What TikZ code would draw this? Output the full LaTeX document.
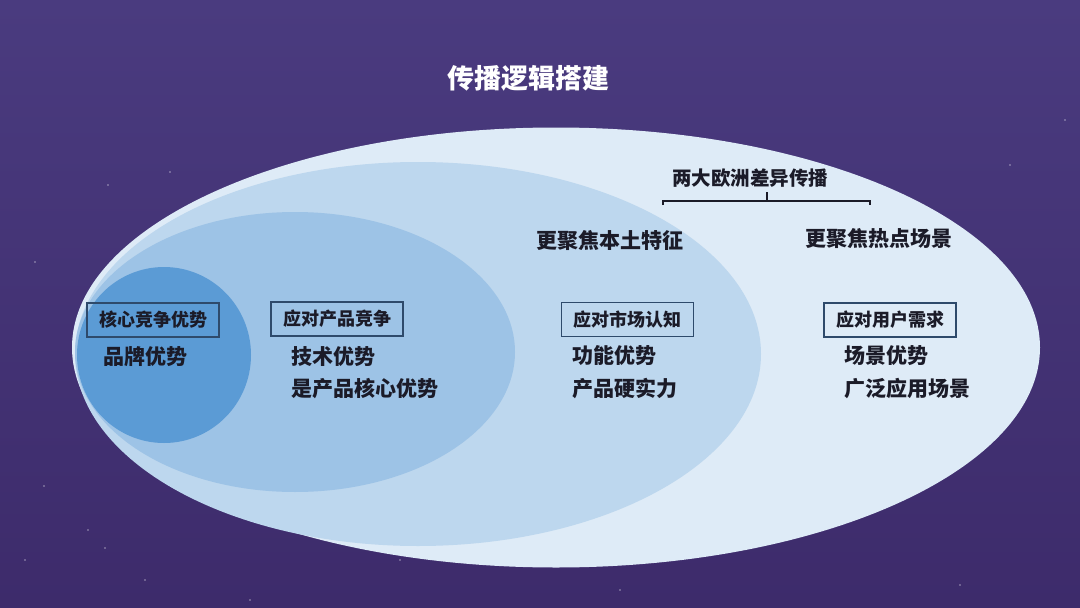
\documentclass[tikz,border=0pt]{standalone}
\usepackage{fontspec}
\newfontfamily\cjk{Noto Sans CJK SC}
\definecolor{bgtop}{HTML}{4A3B7F}
\definecolor{bgbot}{HTML}{3D2B6B}
\definecolor{eA}{HTML}{DEEBF7}
\definecolor{eB}{HTML}{BDD7EE}
\definecolor{eC}{HTML}{9DC3E6}
\definecolor{eD}{HTML}{5B9BD5}
\definecolor{ink}{HTML}{1B1B28}
\definecolor{boxline}{HTML}{2E4A6B}
\tikzset{
  lbl/.style={font=\cjk\bfseries\fontsize{21}{23}\selectfont, text=ink, inner sep=0pt, anchor=west},
  tag/.style={draw=boxline, line width=1.1pt, font=\cjk\bfseries\fontsize{18}{20}\selectfont, text=ink, minimum width=132pt, minimum height=34pt, inner sep=0pt},
  ttl/.style={font=\cjk\bfseries\fontsize{27}{29}\selectfont, text=white, inner sep=0pt},
  brk/.style={draw=ink, line width=1.1pt},
  star/.style={fill=white, opacity=0.35}
}
\begin{document}
\begin{tikzpicture}[x=1pt,y=-1pt]
\useasboundingbox (0,0) rectangle (1080,608);
\shade[top color=bgtop, bottom color=bgbot] (0,0) rectangle (1080,608);
% faint stars
\foreach \sx/\sy in {35/262,108/185,170/172,44/486,88/530,105/548,25/560,145/580,300/525,1010/165,1065/120,960/585,620/590,250/600,400/560}
  \fill[star] (\sx,\sy) circle (1.1);
% ellipses
\fill[eA] (556,347.5) ellipse [x radius=484, y radius=220];
\fill[eB] (418,354) ellipse [x radius=343, y radius=192];
\fill[eC] (295,352) ellipse [x radius=220, y radius=140];
\fill[eD] (164,355) ellipse [x radius=87, y radius=88];
% title
\node[ttl] (title) at (528,78) {传播逻辑搭建};
% top labels
\node[font=\cjk\bfseries\fontsize{19.5}{21}\selectfont, text=ink, inner sep=0pt] (eu) at (750,178) {两大欧洲差异传播};
\coordinate (bl) at (663,205);
\coordinate (blt) at (663,201);
\coordinate (brt) at (870,201);
\coordinate (br) at (870,205);
\coordinate (bm) at (767,201);
\coordinate (bmt) at (767,192);
\draw[brk] (bl) -- (blt) -- (brt) -- (br);
\draw[brk] (bm) -- (bmt);
\node[lbl] (local) at (536,240) {更聚焦本土特征};
\node[lbl] (hot) at (805,239) {更聚焦热点场景};
% boxes
\node[tag] (t1) at (153,320) {核心竞争优势};
\node[tag] (t2) at (337,319) {应对产品竞争};
\node[tag] (t3) at (627.5,319.5) {应对市场认知};
\node[tag] (t4) at (890,320) {应对用户需求};
% lines
\node[lbl] (a1) at (103,357) {品牌优势};
\node[lbl] (b1) at (291,357) {技术优势};
\node[lbl] (b2) at (291,389) {是产品核心优势};
\node[lbl] (c1) at (572,356) {功能优势};
\node[lbl] (c2) at (572,389) {产品硬实力};
\node[lbl] (d1) at (844,356) {场景优势};
\node[lbl] (d2) at (844,389) {广泛应用场景};
\end{tikzpicture}
\end{document}
